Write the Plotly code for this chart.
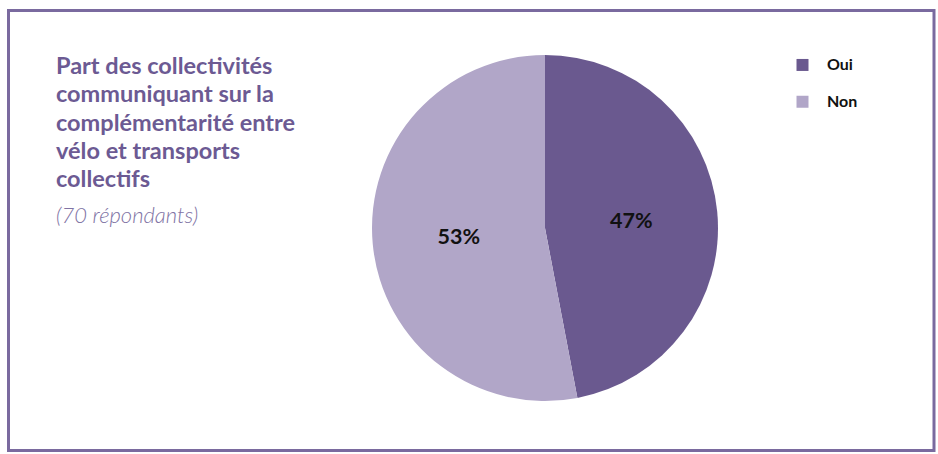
import plotly.graph_objects as go

# Survey answers (share of 70 responding local authorities)
labels = ["Oui", "Non"]
values = [47, 53]
colors = ["#6a598f", "#b1a6c8"]

title_lines = [
    "Part des collectivités",
    "communiquant sur la",
    "complémentarité entre",
    "vélo et transports",
    "collectifs",
]
subtitle = "(70 répondants)"

W, H = 938, 454
TITLE_TOP = 49      # px from top of the first title line box
LINE_STEP = 28.3    # px between title lines

fig = go.Figure(
    go.Pie(
        # blank second line gives each legend row more height
        labels=[f"<span style='font-size:16px'><b>{l}</b></span><br>&nbsp;" for l in labels],
        values=values,
        sort=False,
        direction="clockwise",
        rotation=0,
        marker=dict(colors=colors, line=dict(width=0)),
        texttemplate="%{percent:.0%}",
        textposition="inside",
        insidetextorientation="horizontal",
        textfont=dict(family="Lato", size=21.5, color="#111111", weight="bold"),
        hoverinfo="percent",
        domain=dict(x=[372 / W, 718 / W], y=[1 - 401 / H, 1 - 55 / H]),
    )
)

for i, line in enumerate(title_lines):
    fig.add_annotation(
        x=54 / W, y=1 - (TITLE_TOP + i * LINE_STEP) / H, xref="paper", yref="paper",
        xanchor="left", yanchor="top", align="left", showarrow=False,
        text="<b>" + line + "</b>",
        font=dict(family="Lato", size=23.5, color="#6c5a93"),
    )
fig.add_annotation(
    x=54 / W, y=1 - 199 / H, xref="paper", yref="paper",
    xanchor="left", yanchor="top", align="left", showarrow=False,
    text="<i>" + subtitle + "</i>",
    font=dict(family="Lato", size=22, color="#8073a4", weight=300),
)

# frame around the chart
fig.add_shape(
    type="rect", xref="paper", yref="paper",
    x0=8.5 / W, x1=934 / W, y0=1 - 450.5 / H, y1=1 - 10.5 / H,
    line=dict(color="#7a6a9f", width=3), fillcolor="rgba(0,0,0,0)",
)

fig.update_layout(
    width=W, height=H,
    margin=dict(l=0, r=0, t=0, b=0),
    paper_bgcolor="white",
    plot_bgcolor="white",
    showlegend=True,
    legend=dict(
        x=778 / W, y=1 - 50 / H, xanchor="left", yanchor="top",
        font=dict(family="Lato", size=13, color="#111111"),
        valign="top",
        itemwidth=39,
        bgcolor="rgba(0,0,0,0)",
        traceorder="normal",
    ),
)

fig.write_html("out.html")
